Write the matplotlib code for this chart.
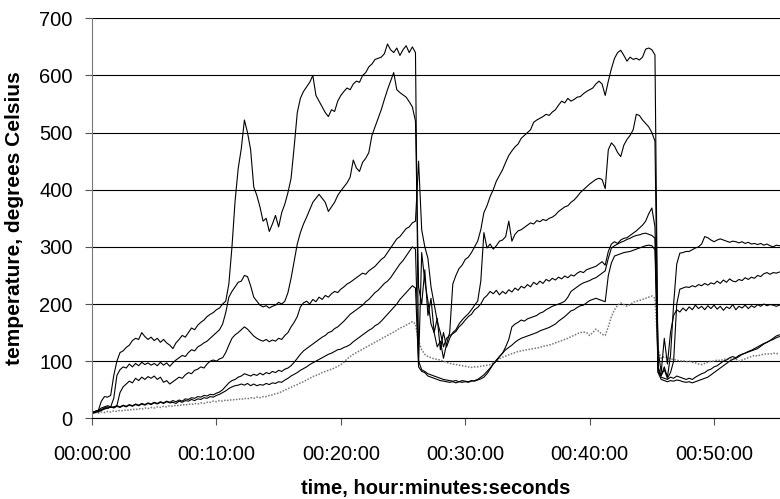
import matplotlib
matplotlib.use('Agg')
import matplotlib.pyplot as plt
import numpy as np

plt.rcParams['font.family'] = ['Liberation Sans', 'DejaVu Sans']

# logger interval in minutes
step = 0.25

# thermocouple readings, degrees Celsius, one row per 5 minutes
tc_a = [10, 12, 13, 30, 38, 37, 40, 75, 100, 115, 118, 124, 128, 136, 140, 138, 150, 143, 138, 142,
        136, 140, 133, 138, 132, 128, 122, 132, 138, 145, 142, 150, 158, 155, 163, 168, 172, 178, 182, 185,
        190, 193, 200, 205, 235, 300, 380, 437, 472, 522, 500, 470, 405, 390, 370, 345, 350, 327, 340, 355,
        335, 360, 375, 395, 420, 475, 535, 560, 572, 580, 588, 600, 565, 555, 545, 535, 528, 540, 537, 555,
        565, 572, 578, 575, 585, 590, 588, 600, 605, 615, 620, 628, 630, 632, 638, 655, 645, 640, 648, 635,
        645, 652, 640, 650, 640, 95, 290, 240, 205, 165, 150, 125, 135, 105, 130, 150, 235, 250, 262, 268,
        278, 282, 290, 300, 310, 330, 360, 372, 388, 400, 415, 425, 435, 448, 460, 468, 475, 480, 490, 495,
        500, 505, 518, 522, 525, 528, 532, 530, 536, 540, 548, 555, 552, 560, 555, 558, 562, 563, 568, 572,
        575, 578, 585, 590, 585, 565, 590, 612, 630, 640, 644, 635, 625, 632, 628, 630, 627, 632, 646, 648,
        645, 636, 80, 75, 90, 72, 110, 200, 270, 289, 290, 292, 292, 295, 298, 300, 305, 318, 316, 312,
        309, 312, 314, 312, 310, 308, 310, 309, 307, 309, 306, 308, 305, 306, 304, 306, 303, 305, 302, 300,
        303, 302]

tc_b = [10, 12, 14, 18, 20, 22, 20, 35, 75, 85, 90, 88, 95, 90, 96, 92, 98, 94, 97, 93,
        96, 92, 98, 93, 97, 91, 97, 102, 106, 110, 108, 115, 120, 118, 125, 128, 132, 135, 140, 145,
        150, 155, 165, 185, 212, 222, 230, 238, 240, 250, 248, 232, 212, 205, 198, 195, 197, 193, 196, 198,
        203, 200, 205, 220, 245, 275, 305, 325, 340, 352, 365, 378, 385, 392, 385, 378, 362, 370, 378, 390,
        398, 405, 412, 422, 452, 438, 432, 448, 455, 465, 495, 510, 525, 540, 558, 575, 590, 605, 575, 570,
        566, 562, 554, 545, 520, 230, 200, 260, 180, 210, 150, 175, 120, 150, 125, 140, 150, 155, 165, 172,
        178, 183, 190, 198, 205, 240, 325, 298, 305, 296, 302, 310, 312, 318, 345, 310, 322, 328, 330, 334,
        338, 342, 340, 346, 344, 348, 346, 350, 352, 356, 362, 366, 370, 372, 378, 382, 388, 395, 400, 405,
        410, 414, 418, 420, 418, 402, 470, 482, 476, 465, 458, 478, 488, 495, 505, 532, 530, 522, 516, 510,
        500, 485, 90, 75, 85, 70, 80, 100, 200, 226, 228, 230, 229, 232, 230, 234, 232, 236, 233, 237,
        235, 240, 236, 242, 238, 244, 240, 239, 243, 241, 246, 243, 247, 245, 250, 248, 253, 255, 252, 255,
        254, 256]

tc_c = [10, 12, 11, 14, 18, 20, 19, 20, 22, 45, 55, 60, 65, 62, 70, 66, 72, 68, 73, 70,
        74, 68, 72, 63, 66, 60, 64, 68, 72, 70, 76, 80, 78, 84, 86, 90, 88, 95, 100, 102,
        100, 104, 106, 115, 128, 140, 146, 150, 155, 160, 156, 150, 144, 140, 137, 135, 138, 134, 137, 135,
        140, 138, 145, 150, 160, 168, 178, 195, 202, 205, 200, 208, 204, 212, 208, 215, 212, 218, 222, 220,
        226, 230, 235, 238, 242, 246, 250, 254, 252, 258, 262, 266, 272, 278, 282, 290, 298, 306, 314, 318,
        325, 332, 335, 342, 345, 450, 330, 300, 280, 230, 200, 170, 150, 125, 140, 145, 148, 152, 160, 165,
        172, 178, 182, 190, 194, 200, 210, 215, 222, 218, 224, 216, 222, 218, 225, 221, 228, 224, 231, 228,
        234, 230, 238, 234, 240, 236, 243, 240, 245, 242, 247, 244, 249, 246, 251, 249, 254, 257, 255, 260,
        262, 264, 266, 270, 274, 268, 292, 305, 309, 306, 312, 315, 316, 320, 324, 328, 333, 338, 345, 358,
        368, 335, 120, 80, 140, 95, 150, 180, 190, 186, 193, 188, 195, 190, 198, 192, 196, 190, 197, 192,
        198, 191, 196, 189, 195, 192, 199, 190, 196, 193, 198, 192, 197, 194, 199, 196, 200, 197, 199, 198,
        196, 198]

tc_d = [8, 10, 12, 14, 16, 18, 20, 19, 22, 20, 23, 21, 24, 22, 25, 23, 26, 24, 27, 25,
        28, 26, 29, 27, 30, 28, 31, 29, 32, 30, 34, 33, 36, 35, 38, 37, 40, 39, 42, 41,
        44, 46, 50, 56, 62, 66, 68, 72, 74, 78, 76, 74, 77, 75, 79, 76, 80, 78, 82, 80,
        84, 82, 86, 88, 92, 98, 105, 112, 118, 122, 126, 130, 134, 138, 142, 145, 150, 152, 157, 160,
        165, 170, 176, 182, 186, 190, 194, 198, 204, 208, 214, 220, 224, 230, 236, 240, 246, 254, 262, 270,
        276, 284, 292, 300, 296, 100, 85, 82, 78, 76, 74, 72, 70, 68, 67, 66, 65, 66, 64, 66,
        65, 64, 66, 65, 67, 69, 72, 78, 86, 95, 102, 108, 114, 125, 138, 160, 165, 168, 172, 170,
        174, 176, 178, 180, 184, 186, 190, 193, 196, 198, 200, 202, 205, 212, 222, 226, 230, 234, 237, 239,
        241, 244, 246, 250, 254, 258, 280, 298, 302, 305, 308, 310, 313, 315, 318, 320, 321, 323, 324, 322,
        320, 315, 85, 72, 70, 68, 72, 70, 74, 72, 70, 68, 70, 68, 72, 75, 78, 80, 84, 86,
        90, 92, 96, 100, 102, 106, 108, 106, 110, 112, 114, 116, 118, 120, 122, 126, 130, 133, 136, 140,
        144, 146]

tc_e = [10, 12, 14, 15, 18, 17, 20, 18, 21, 19, 22, 20, 23, 21, 24, 22, 25, 23, 26, 24,
        27, 25, 28, 26, 29, 27, 28, 26, 30, 28, 31, 30, 33, 31, 34, 33, 36, 35, 38, 37,
        40, 42, 45, 48, 52, 55, 57, 58, 60, 58, 61, 57, 60, 57, 59, 58, 61, 59, 62, 61,
        64, 63, 67, 70, 74, 77, 80, 84, 87, 90, 94, 97, 100, 103, 106, 109, 112, 114, 117, 120,
        121, 124, 126, 129, 134, 138, 142, 146, 150, 154, 157, 162, 165, 170, 176, 182, 188, 194, 200, 208,
        214, 220, 226, 232, 228, 90, 82, 80, 74, 72, 70, 68, 66, 65, 64, 63, 64, 62, 64, 63,
        64, 63, 65, 66, 68, 72, 76, 82, 88, 95, 100, 108, 114, 120, 124, 128, 133, 137, 140, 142,
        144, 146, 148, 150, 153, 155, 157, 159, 162, 165, 170, 174, 178, 183, 188, 190, 194, 197, 198, 202,
        206, 208, 210, 208, 206, 204, 250, 272, 284, 286, 288, 290, 291, 292, 294, 296, 298, 300, 302, 303,
        302, 295, 80, 68, 66, 64, 66, 65, 67, 66, 64, 63, 64, 62, 64, 66, 68, 70, 72, 76,
        80, 84, 88, 92, 96, 100, 103, 105, 108, 112, 114, 117, 119, 122, 125, 128, 131, 133, 136, 138,
        141, 143]

# dotted trace
tc_f = [8, 10, 9, 11, 10, 12, 11, 13, 12, 14, 13, 15, 14, 16, 15, 17, 16, 18, 17, 19,
        18, 20, 19, 21, 20, 22, 21, 23, 22, 24, 23, 25, 24, 26, 25, 27, 26, 28, 28, 30,
        29, 31, 30, 32, 31, 33, 32, 34, 33, 35, 34, 36, 35, 37, 36, 38, 38, 40, 41, 43,
        44, 47, 49, 52, 54, 57, 59, 62, 64, 67, 70, 73, 75, 77, 80, 82, 84, 86, 88, 91,
        94, 98, 104, 108, 112, 115, 118, 121, 124, 127, 130, 133, 136, 139, 142, 145, 148, 151, 154, 158,
        160, 163, 166, 169, 165, 135, 120, 112, 108, 106, 104, 103, 102, 100, 98, 96, 95, 94, 93, 92,
        91, 90, 89, 90, 90, 91, 92, 93, 94, 97, 100, 104, 107, 109, 111, 113, 115, 117, 118, 119,
        120, 121, 122, 123, 124, 126, 127, 128, 130, 132, 134, 136, 138, 140, 143, 145, 148, 150, 151, 150,
        145, 150, 156, 152, 147, 145, 160, 178, 190, 198, 202, 199, 196, 199, 203, 205, 206, 208, 210, 212,
        214, 210, 120, 105, 108, 106, 104, 103, 102, 100, 101, 99, 100, 98, 97, 95, 94, 96, 98, 100,
        100, 102, 101, 103, 104, 103, 105, 104, 100, 102, 104, 106, 108, 110, 109, 111, 112, 113, 112, 114,
        113, 114]

tick_minutes = [0, 10, 20, 30, 40, 50]
tick_labels = ['00:00:00', '00:10:00', '00:20:00', '00:30:00', '00:40:00', '00:50:00']

###########绘图###########
fig = plt.figure(figsize=(7.8, 4.99), dpi=100)
ax = fig.add_axes([92 / 780, 80.7 / 499, 688 / 780, 400 / 499])

t = np.arange(len(tc_a)) * step
ax.plot(t, tc_f, color='#777777', lw=1.1, ls=(0, (1, 1)))
for s in [tc_e, tc_d, tc_c, tc_b, tc_a]:
    ax.plot(t, s, color='black', lw=0.8)

ax.set_xlim(0, 55.3)
ax.set_ylim(0, 700)
ax.set_xticks(tick_minutes)
ax.set_xticklabels(tick_labels)
ax.set_yticks(range(0, 701, 100))

ax.yaxis.grid(True, color='black', lw=0.8)
ax.set_axisbelow(True)
for side in ['top', 'right']:
    ax.spines[side].set_visible(False)
ax.spines['left'].set_color('#777777')
ax.spines['bottom'].set_color('black')

ax.tick_params(axis='both', direction='out', length=5, width=0.8,
               color='#555555', labelsize=14.5)
ax.tick_params(axis='y', pad=8.9)
ax.tick_params(axis='x', pad=14.4)

ax.set_xlabel('time, hour:minutes:seconds', fontsize=14.5, fontweight='bold')
ax.set_ylabel('temperature, degrees Celsius', fontsize=15, fontweight='bold')
ax.xaxis.set_label_coords(0.5, -0.152)
ax.yaxis.set_label_coords(-0.099, 0.5)

fig.savefig('out.png', dpi=100)
